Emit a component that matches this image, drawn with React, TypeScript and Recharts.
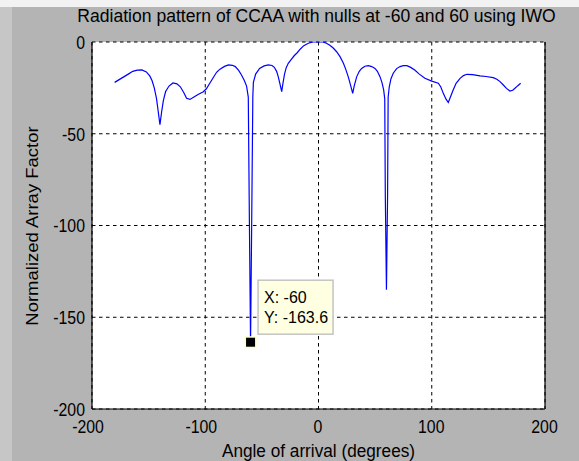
import React from "react";
import {
  LineChart,
  Line,
  XAxis,
  YAxis,
  CartesianGrid,
  ReferenceLine,
  ReferenceDot,
  Customized,
} from "recharts";

const angles = [
  -180, -176, -172, -168, -164, -160, -156, -152, -149, -147, -145, -143, -141.5, -140, -138.5, -137, -135, -132,
  -128.5, -125, -122, -119, -116.5, -113.5, -110, -106, -102, -99, -96, -93, -90, -87, -83, -79.5, -76, -73.5,
  -70.5, -68, -65.5, -63.5, -62, -61, -60, -59, -58, -57.5, -55.5, -52, -48, -44.3, -41, -39, -37, -35.5, -34,
  -32.5, -31.5, -30, -28.5, -26.7, -24, -21.5, -19, -16, -13, -9, -5, 0, 4, 7, 10, 13, 16, 19, 22, 24, 26.3, 28.3,
  30.2, 31.5, 33.7, 36, 38.1, 41, 44, 47, 49.9, 52, 54.3, 56, 57.5, 58.5, 59, 60, 61, 61.5, 62.5, 64, 66, 69, 72,
  75, 78, 81, 85, 89, 94, 100, 105.8, 108, 110.2, 112.5, 114.6, 116.5, 119, 121.5, 125, 128, 131, 136, 142.6, 148,
  154.3, 157.5, 160.3, 163, 166, 169, 171.5, 173.5, 176, 178.5,
];

const arrayFactor = [
  -22, -20.5, -19, -17.5, -16, -15.3, -15.2, -16.3, -18.5, -21, -25, -31, -38, -45, -38, -32, -27, -24,
  -22.3, -22.8, -24.4, -27.5, -30.7, -31.3, -30, -28.5, -27.2, -25.5, -22.5, -19.5, -16.5, -14.8, -13.3, -12.5, -12.7, -13.4,
  -15.5, -18, -21, -24, -30, -99, -163.6, -99, -30, -22, -17.5, -14.4, -13, -12.5, -12.8, -13.8, -16, -19, -23,
  -27, -23, -17.5, -14, -11.6, -9.5, -7.5, -6, -3.8, -2, -0.7, 0, 0, 0, -0.7, -1.8, -3.3, -5.3, -8, -11.6, -14.8, -19, -23.5,
  -28, -24, -19, -16, -14.4, -13.2, -12.9, -13.4, -14.4, -16, -18.9, -22, -26, -31, -84, -135, -84, -30, -24.4, -20, -17, -14.5, -13.4,
  -12.9, -12.9, -13.7, -15.3, -17.5, -19.8, -21.3, -22.5, -24.5, -28, -31, -33, -30, -26, -22.5, -19.8, -18.3, -17.6, -17.8, -18.5, -18.8,
  -19.4, -20.3, -21.6, -23.3, -25.3, -26.7, -26.3, -25.2, -23.8, -22.5,
];

const xTicks = [-200, -100, 0, 100, 200];
const yTicks = [-200, -150, -100, -50, 0];

const tipX = -60;
const tipY = -163.6;

const titleText = "Radiation pattern of CCAA with nulls at -60 and 60 using IWO";
const xLabelText = "Angle of arrival (degrees)";
const yLabelText = "Normalized Array Factor";

const data = angles.map((a, i) => ({ angle: a, af: arrayFactor[i] }));

const FONT = "'Liberation Sans', Arial, sans-serif";
const TICK_SIZE = 18.5;
const TICK_K = 0.857;

const XTick = (props: any) => {
  const { x, y, payload } = props;
  const v = payload.value;
  const dx = v < 0 ? -4 : -0.5;
  return (
    <text
      transform={`translate(${x + dx},${y + 23.5}) scale(${TICK_K},1)`}
      textAnchor="middle"
      fontFamily={FONT}
      fontSize={TICK_SIZE}
      fill="#000"
    >
      {String(v)}
    </text>
  );
};

const YTick = (props: any) => {
  const { x, y, payload } = props;
  return (
    <text
      transform={`translate(${x - 7},${y + 6.8}) scale(${TICK_K},1)`}
      textAnchor="end"
      fontFamily={FONT}
      fontSize={TICK_SIZE}
      fill="#000"
    >
      {String(payload.value)}
    </text>
  );
};

const Texts = () => (
  <g>
    <text
      transform={`translate(304.5,15) scale(0.95,1)`}
      textAnchor="middle"
      fontFamily={FONT}
      fontSize={18.5}
      fill="#000"
    >
      {titleText}
    </text>
    <text
      transform={`translate(306.5,449.5) scale(0.93,1)`}
      textAnchor="middle"
      fontFamily={FONT}
      fontSize={18.5}
      fill="#000"
    >
      {xLabelText}
    </text>
    <text
      transform={`translate(25.5,219) rotate(-90) scale(1,0.93)`}
      textAnchor="middle"
      fontFamily={FONT}
      fontSize={18.5}
      fill="#000"
    >
      {yLabelText}
    </text>
  </g>
);

const DataTip = (props: any) => {
  const { cx, cy } = props;
  if (cx == null || cy == null) return null;
  return (
    <g>
      <rect x={cx - 6} y={cy - 6} width={12} height={12} fill="#ffffc4" />
      <rect x={cx - 4.5} y={cy - 4.5} width={9} height={9} fill="#000" />
      <rect x={cx + 7.5} y={cy - 62} width={75} height={54} fill="#ffffe1" stroke="#c4c4c4" strokeWidth={1.5} />
      <text x={cx + 13.5} y={cy - 39} fontFamily={FONT} fontSize={16} fill="#000">
        {`X: ${tipX}`}
      </text>
      <text x={cx + 13.5} y={cy - 19} fontFamily={FONT} fontSize={16} fill="#000">
        {`Y: ${tipY}`}
      </text>
    </g>
  );
};

export default function App() {
  return (
    <div style={{ position: "absolute", left: 0, top: 0, width: 579, height: 461, background: "#f2f2f2" }}>
      <div style={{ position: "absolute", left: 0, top: 7, width: 12, height: 454, background: "#c6c6c6" }} />
      <div
        style={{
          position: "absolute",
          left: 12,
          top: 7,
          width: 567,
          height: 454,
          background: "#b4b4b4",
        }}
      >
        <LineChart width={567} height={454} data={data} margin={{ top: 35, right: 34, bottom: 0, left: 0 }}>
          <CartesianGrid stroke="#000" strokeDasharray="3.5 3.5" fill="#ffffff" fillOpacity={1} />
          <XAxis
            dataKey="angle"
            type="number"
            domain={[-200, 200]}
            ticks={xTicks}
            allowDataOverflow
            height={52}
            tickLine={false}
            tickSize={0}
            tickMargin={0}
            axisLine={{ stroke: "#000", strokeWidth: 1.2 }}
            tick={<XTick />}
            interval={0}
          />
          <YAxis
            type="number"
            domain={[-200, 0]}
            ticks={yTicks}
            allowDataOverflow
            width={80}
            tickLine={false}
            tickSize={0}
            tickMargin={0}
            axisLine={{ stroke: "#000", strokeWidth: 1.2 }}
            tick={<YTick />}
            interval={0}
          />
          <ReferenceLine x={200} stroke="#000" strokeWidth={1.2} />
          <Line
            type="linear"
            dataKey="af"
            stroke="#0000ff"
            strokeWidth={1.2}
            dot={false}
            isAnimationActive={false}
          />
          <ReferenceDot x={tipX} y={tipY} r={6} shape={(p: any) => <DataTip {...p} />} />
          <Customized component={Texts} />
        </LineChart>
      </div>
    </div>
  );
}
